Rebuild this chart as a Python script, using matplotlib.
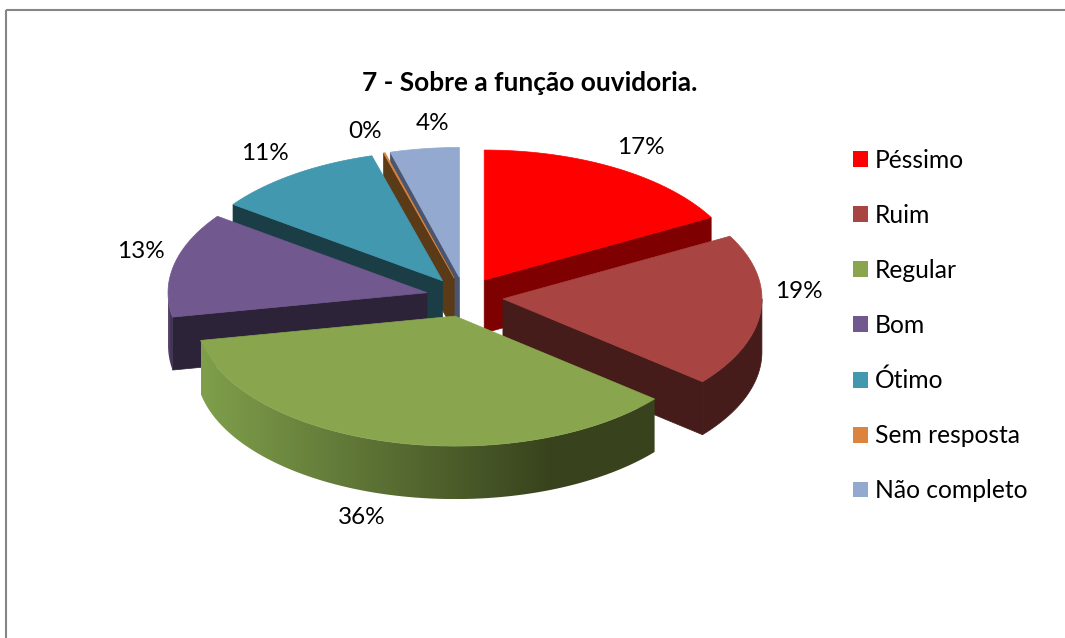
import numpy as np
import matplotlib
matplotlib.use("Agg")
import matplotlib.pyplot as plt
from matplotlib.colors import LinearSegmentedColormap
from matplotlib.patches import Polygon, Patch, Rectangle

# -------------------------------------------------------------
# Data
# -------------------------------------------------------------
title = "7 - Sobre a função ouvidoria."
categories = ["Péssimo", "Ruim", "Regular", "Bom", "Ótimo", "Sem resposta", "Não completo"]
values = [17, 19, 36, 13, 10.6, 0.1, 4.3]
pct_labels = ["17%", "19%", "36%", "13%", "11%", "0%", "4%"]

top_colors = ["#FF0000", "#A84442", "#89A54E", "#71588F", "#4198AF", "#DB843D", "#93A9CF"]
face_colors = ["#7F0000", "#451C1A", "#38431D", "#2D2339", "#1A3D46", "#5A3A17", "#4A5670"]
label_pos = [(641, 148), (799, 291), (362, 518), (141, 251), (265, 153), (365, 131), (433, 124)]

# -------------------------------------------------------------
# Pie geometry (pixels)
# -------------------------------------------------------------
cx, cy = 464.6, 297
rx, ry = 259, 130
ex, ey = 38.5, 19.7
depth = 53

# rim shading: (left colour, x where it turns into the dark colour)
rim_shade = {2: ("#7F9F4B", 350), 3: ("#5A4672", 6)}


def px(t, ox):
    return ox + rx * np.sin(np.radians(t))


def py(t, oy):
    return oy - ry * np.cos(np.radians(t))


fig = plt.figure(figsize=(10.65, 6.38), dpi=100)
ax = fig.add_axes([0, 0, 1, 1])
ax.axis("off")

# chart frame
ax.add_patch(Rectangle((6, 10), 1200, 800, fill=False, ec="#868686", lw=1.5))

edges = np.concatenate([[0], np.cumsum(values)]) * 3.6
slices = []
for i in range(len(values)):
    mid = (edges[i] + edges[i + 1]) / 2
    ox = cx + ex * np.sin(np.radians(mid))
    oy = cy - ey * np.cos(np.radians(mid))
    slices.append((i, edges[i], edges[i + 1], ox, oy))

# back to front
order = [6, 5, 4, 3, 0, 1, 2]
for i in order:
    _, t0, t1, ox, oy = slices[i]

    # cut faces that look toward the viewer
    for t, seen in [(t0, 180 < t0 < 360), (t1, 0 < t1 < 180)]:
        if seen:
            xe, ye = px(t, ox), py(t, oy)
            ax.add_patch(Polygon([(ox, oy), (xe, ye), (xe, ye + depth), (ox, oy + depth)],
                                 fc=face_colors[i], ec=face_colors[i], lw=0.5))

    # outer rim on the front half
    a0, a1 = max(t0, 90), min(t1, 270)
    if a1 > a0:
        ts = np.linspace(a0, a1, 160)
        xs, ys = px(ts, ox), py(ts, oy)
        rim = np.vstack([np.column_stack([xs, ys]),
                         np.column_stack([xs[::-1], ys[::-1] + depth])])
        if i in rim_shade:
            light, span = rim_shade[i]
            left, right = xs.min(), xs.max()
            pos = np.linspace(0, 1, 256)
            shade = np.clip(pos * (right - left) / span, 0, 1)
            cmap = LinearSegmentedColormap.from_list("rim", [light, face_colors[i]])
            patch = Polygon(rim, fc="none", ec="none", transform=ax.transData)
            ax.add_patch(patch)
            img = ax.imshow(shade[None, :], cmap=cmap, vmin=0, vmax=1, aspect="auto",
                            extent=(left, right, ys.max() + depth, ys.min()), zorder=1,
                            interpolation="bilinear")
            img.set_clip_path(patch)
        else:
            ax.add_patch(Polygon(rim, fc=face_colors[i], ec=face_colors[i], lw=0.5))

    # top
    ts = np.linspace(t0, t1, 120)
    pts = [(ox, oy)] + list(zip(px(ts, ox), py(ts, oy)))
    ax.add_patch(Polygon(pts, fc=top_colors[i], ec=top_colors[i], lw=0.5))

ax.set_xlim(0, 1065)
ax.set_ylim(638, 0)

for lab, (x, y) in zip(pct_labels, label_pos):
    ax.text(x, y, lab, ha="center", va="center", fontsize=17.5, family="Lato", color="black")

ax.text(530, 83, title, ha="center", va="center", fontsize=18.9, fontweight="bold",
        family="Lato", color="black")

# -------------------------------------------------------------
# Legend
# -------------------------------------------------------------
handles = [Patch(fc=c, ec="none", label=n) for c, n in zip(top_colors, categories)]
leg = ax.legend(handles=handles, loc="upper left", bbox_to_anchor=(853 / 1065, 1 - 149 / 638),
                frameon=False, labelspacing=1.30, handlelength=0.61,
                handleheight=0.61, handletextpad=0.28, borderpad=0, borderaxespad=0,
                prop={"family": "Lato", "size": 17.7})

fig.savefig("out.png", dpi=100)
